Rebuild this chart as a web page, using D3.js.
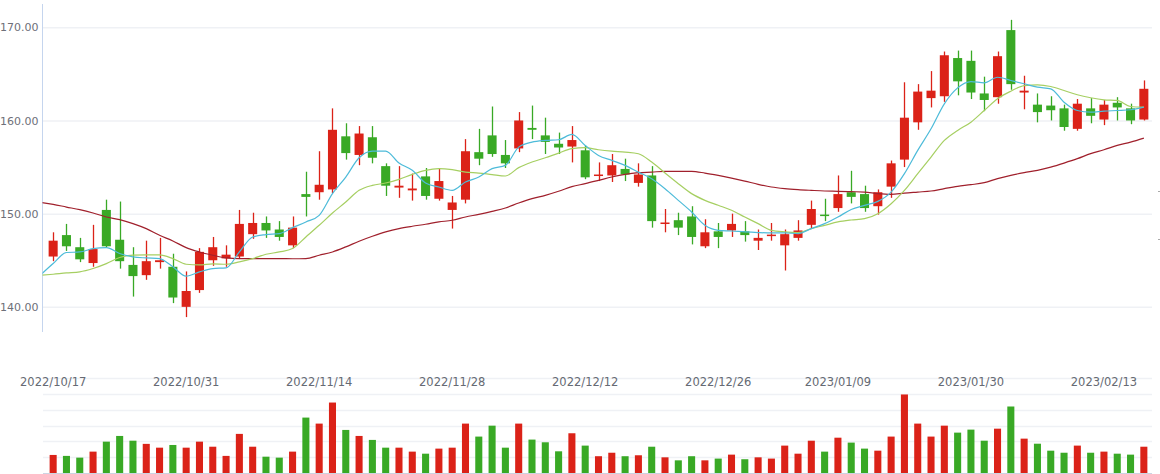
<!DOCTYPE html>
<meta charset="utf-8">
<head>
    <script src="https://d3js.org/d3.v7.min.js"></script>
    <style>
        body { margin: 0; background: #fff; }
        text { font-family: "DejaVu Sans", Verdana, sans-serif; }
    </style>
</head>
<body>
<div id="chart"></div>
<script>
    // trading days shown on the chart
    var dates = [
        "2022/10/17", "2022/10/18", "2022/10/19", "2022/10/20", "2022/10/21",
        "2022/10/24", "2022/10/25", "2022/10/26", "2022/10/27", "2022/10/28",
        "2022/10/31", "2022/11/01", "2022/11/02", "2022/11/03", "2022/11/04",
        "2022/11/07", "2022/11/08", "2022/11/09", "2022/11/10", "2022/11/11",
        "2022/11/14", "2022/11/15", "2022/11/16", "2022/11/17", "2022/11/18",
        "2022/11/21", "2022/11/22", "2022/11/23", "2022/11/24", "2022/11/25",
        "2022/11/28", "2022/11/29", "2022/11/30", "2022/12/01", "2022/12/02",
        "2022/12/05", "2022/12/06", "2022/12/07", "2022/12/08", "2022/12/09",
        "2022/12/12", "2022/12/13", "2022/12/14", "2022/12/15", "2022/12/16",
        "2022/12/19", "2022/12/20", "2022/12/21", "2022/12/22", "2022/12/23",
        "2022/12/26", "2022/12/27", "2022/12/28", "2022/12/29", "2022/12/30",
        "2023/01/03", "2023/01/04", "2023/01/05", "2023/01/06",
        "2023/01/09", "2023/01/10", "2023/01/11", "2023/01/12", "2023/01/13",
        "2023/01/16", "2023/01/17", "2023/01/18", "2023/01/19", "2023/01/20",
        "2023/01/30", "2023/01/31", "2023/02/01", "2023/02/02", "2023/02/03",
        "2023/02/06", "2023/02/07", "2023/02/08", "2023/02/09", "2023/02/10",
        "2023/02/13", "2023/02/14", "2023/02/15", "2023/02/16"
    ];
    var tickDates = ["2022/10/17", "2022/10/31", "2022/11/14", "2022/11/28", "2022/12/12",
        "2022/12/26", "2023/01/09", "2023/01/30", "2023/02/13"];
    var priceTicks = [140, 150, 160, 170];

    var opens = [145.4, 147.7, 146.4, 144.7, 150.4, 147.2, 144.5, 143.4, 144.8, 144.3,
        140.0, 141.8, 145.0, 145.2, 145.4, 147.8, 149.0, 148.3, 146.6, 152.1,
        152.3, 152.6, 158.3, 156.3, 158.2, 155.1, 152.8, 152.5, 154.0, 151.6,
        150.4, 151.5, 156.6, 158.4, 156.3, 157.0, 159.2, 158.4, 157.5, 157.2,
        156.8, 154.1, 154.1, 154.8, 153.3, 154.1, 148.95, 149.3, 149.7, 146.5,
        148.1, 148.2, 148.1, 147.1, 147.7, 146.6, 147.4, 148.8, 149.9, 150.6,
        152.3, 152.1, 150.8, 152.9, 155.8, 159.8, 162.4, 162.6, 166.7, 166.4,
        162.9, 162.5, 169.7, 163.0, 161.7, 161.6, 161.3, 159.1, 161.3, 160.1,
        161.9, 161.3, 160.1];
    var closes = [147.1, 146.5, 145.1, 146.2, 146.5, 144.9, 143.3, 144.9, 145.0, 141.0,
        141.7, 145.9, 146.4, 145.6, 148.9, 149.0, 148.2, 147.5, 148.5, 151.8,
        153.1, 159.0, 156.5, 158.6, 156.0, 153.0, 153.0, 152.7, 151.9, 153.5,
        151.2, 156.7, 155.9, 156.4, 155.4, 160.0, 159.0, 157.7, 157.1, 157.9,
        153.9, 154.2, 155.2, 154.2, 154.2, 149.2, 149.05, 148.5, 147.5, 148.0,
        147.5, 148.9, 147.7, 147.4, 147.75, 147.8, 148.2, 150.5, 149.85, 152.1,
        151.8, 150.6, 152.3, 155.4, 160.3, 163.1, 163.2, 167.0, 164.2, 163.0,
        162.2, 166.9, 163.9, 163.2, 160.9, 161.1, 159.3, 161.8, 160.5, 161.7,
        161.4, 160.0, 163.4];
    var highs = [148.0, 148.9, 147.4, 148.8, 151.5, 151.3, 146.4, 147.1, 147.4, 145.7,
        143.8, 146.3, 147.5, 146.6, 150.4, 150.1, 149.7, 149.2, 149.7, 154.5,
        156.7, 161.3, 159.7, 159.4, 159.4, 155.4, 155.1, 154.3, 154.9, 154.9,
        151.9, 158.0, 159.1, 161.5, 157.9, 160.9, 161.6, 160.3, 158.7, 159.4,
        157.3, 155.5, 156.4, 155.9, 155.4, 155.1, 150.5, 150.1, 150.8, 149.4,
        149.0, 150.0, 149.2, 148.3, 149.0, 148.3, 149.3, 151.4, 151.6, 154.1,
        154.6, 153.0, 152.6, 155.7, 164.1, 163.9, 165.3, 167.4, 167.5, 167.5,
        164.7, 167.4, 170.8, 164.8, 162.9, 162.6, 161.7, 162.3, 162.4, 162.2,
        162.5, 161.8, 164.3];
    var lows = [144.9, 146.0, 144.8, 144.3, 146.4, 144.1, 141.1, 142.9, 144.1, 140.4,
        138.9, 141.5, 144.4, 144.3, 145.2, 147.3, 147.4, 147.1, 146.3, 149.7,
        151.5, 152.2, 155.8, 155.2, 155.4, 151.9, 151.7, 151.4, 151.5, 151.4,
        148.4, 151.1, 155.2, 156.1, 154.9, 156.6, 158.0, 156.4, 156.4, 155.5,
        153.7, 153.5, 153.4, 153.5, 152.9, 148.5, 148.0, 147.7, 146.7, 146.3,
        146.3, 147.5, 147.0, 146.1, 147.1, 143.9, 147.1, 148.4, 149.2, 150.2,
        151.1, 150.2, 149.9, 151.7, 155.0, 159.0, 161.4, 162.0, 162.7, 162.3,
        161.0, 161.8, 163.3, 161.2, 159.8, 160.0, 158.9, 158.9, 159.7, 159.5,
        160.0, 159.6, 160.0];
    var volumes = [11.4, 10.8, 9.7, 13.5, 19.8, 23.4, 20.4, 18.4, 16.0, 17.7,
        16.0, 19.8, 16.6, 10.8, 24.7, 16.6, 10.3, 9.7, 13.5, 35.0,
        31.2, 44.5, 27.2, 23.4, 20.9, 16.0, 16.0, 13.5, 12.2, 15.4,
        16.0, 31.2, 23.0, 29.9, 16.0, 31.2, 21.1, 19.4, 13.7, 25.1,
        17.3, 10.6, 12.8, 10.6, 11.2, 16.6, 9.9, 8.0, 10.6, 8.0,
        9.1, 11.6, 8.7, 9.9, 9.1, 17.3, 12.2, 20.4, 13.5, 22.3,
        19.2, 15.4, 14.1, 23.0, 49.6, 31.2, 23.0, 29.9, 25.5, 27.4,
        20.4, 28.0, 42.0, 21.7, 18.5, 14.1, 12.8, 17.3, 12.8, 13.5,
        12.2, 11.6, 16.6];

    // moving averages, first value belongs to the trading day before 2022/10/17
    var ma5 = [143.35, 144.65, 145.83, 145.89, 146.25, 146.36, 145.72, 145.36, 145.25, 145.18, 144.29,
        143.29, 143.75, 144.11, 144.18, 145.89, 147.5, 147.75, 147.86, 148.5, 149.11,
        149.82, 152.15, 153.93, 156.0, 156.71, 156.71, 155.43, 154.65, 153.29, 152.86,
        152.5, 153.39, 153.93, 154.83, 155.18, 157.14, 157.68, 157.86, 157.93, 158.5,
        157.32, 156.25, 155.72, 155.18, 154.46, 153.75, 152.68, 151.43, 150.18, 148.75,
        148.21, 148.14, 148.04, 147.97, 147.93, 147.93, 147.86, 148.4, 148.93, 149.64,
        150.45, 150.89, 151.32, 152.32, 154.29, 156.79, 159.11, 161.79, 163.5, 164.18,
        164.04, 164.64, 164.29, 163.94, 163.57, 163.4, 161.96, 161.07, 160.89, 161.0,
        161.07, 161.15, 161.43];
    var ma10 = [143.38, 143.5, 143.64, 143.75, 144.11, 144.64, 145.29, 145.54, 145.57, 145.57, 145.18,
        144.57, 144.5, 144.61, 144.57, 144.82, 145.18, 145.64, 145.89, 146.26, 147.5,
        148.75, 150.07, 151.25, 152.5, 153.04, 153.29, 153.68, 154.22, 154.65, 154.83,
        154.72, 154.46, 154.36, 154.19, 154.04, 154.94, 155.54, 156.0, 156.5, 156.97,
        157.08, 156.86, 156.71, 156.61, 156.43, 155.54, 154.36, 153.22, 152.15, 151.43,
        150.9, 150.36, 149.64, 148.93, 148.21, 148.04, 147.97, 148.4, 148.75, 149.11,
        149.32, 149.47, 150.0, 151.07, 152.5, 154.29, 156.07, 157.86, 158.93, 159.82,
        161.07, 162.33, 163.14, 163.75, 163.83, 163.65, 163.22, 162.76, 162.44, 162.22,
        162.15, 161.5, 161.43];
    var maLong = [151.21, 151.0, 150.71, 150.43, 150.07, 149.64, 149.36, 148.93, 148.39, 147.68, 147.07,
        146.36, 145.89, 145.54, 145.25, 145.18, 145.18, 145.18, 145.18, 145.16, 145.18,
        145.54, 145.89, 146.43, 147.04, 147.57, 148.04, 148.4, 148.65, 148.86, 149.11,
        149.29, 149.64, 149.93, 150.25, 150.61, 151.14, 151.61, 151.97, 152.4, 152.9,
        153.22, 153.57, 153.93, 154.22, 154.4, 154.46, 154.54, 154.54, 154.54, 154.36,
        154.11, 153.82, 153.5, 153.15, 152.86, 152.69, 152.58, 152.5, 152.43, 152.4,
        152.36, 152.32, 152.15, 152.07, 152.21, 152.32, 152.43, 152.69, 152.93, 153.11,
        153.33, 153.76, 154.11, 154.4, 154.65, 155.0, 155.43, 155.9, 156.44, 156.86,
        157.32, 157.68, 158.11];

    var upColor = "#db2218",
        downColor = "#39a925";

    var width = 1160,
        height = 474;

    var svg = d3.select("#chart").append("svg")
        .attr("width", width)
        .attr("height", height);

    var plotLeft = 42.5,
        plotRight = 1152;

    // scales
    var x = d3.scaleBand()
        .domain(dates)
        .range([46.5, 1150.5])
        .paddingInner(0.32)
        .paddingOuter(0.16);
    var step = x.step();
    function cx(i) {
        return x.range()[0] + (i + 0.5) * step;
    }

    var y = d3.scaleLinear()
        .domain([137.3, 172.5])
        .range([332, 4]);

    var yVol = d3.scaleLinear()
        .domain([0, 60])
        .range([473, 378]);

    // price gridlines and labels
    svg.append("g")
        .attr("transform", "translate(" + plotLeft + ",0)")
        .call(d3.axisLeft(y).tickValues(priceTicks).tickSize(-(plotRight - plotLeft)).tickFormat(d3.format(".2f")))
        .call(function(g) {
            g.select(".domain").remove();
            g.selectAll(".tick line").attr("stroke", "#eff1f5").attr("stroke-width", 1.5);
            g.selectAll(".tick text").attr("x", -4).attr("fill", "#6e7079").attr("font-size", "11px");
        });

    svg.append("line")
        .attr("x1", plotLeft).attr("x2", plotLeft)
        .attr("y1", 4).attr("y2", 332)
        .attr("stroke", "#c5d5ee");

    // volume gridlines
    svg.append("g")
        .selectAll("line")
        .data(d3.range(10, 61, 10))
        .enter().append("line")
        .attr("x1", 43).attr("x2", plotRight)
        .attr("y1", function(d) { return Math.round(yVol(d)) + 0.5; })
        .attr("y2", function(d) { return Math.round(yVol(d)) + 0.5; })
        .attr("stroke", "#eff1f5")
        .attr("stroke-width", 1.5);

    // date labels
    svg.append("g")
        .attr("transform", "translate(0,378)")
        .call(d3.axisBottom(x).tickValues(tickDates).tickSize(0).tickPadding(0))
        .call(function(g) {
            g.select(".domain").remove();
            g.selectAll(".tick text").attr("dy", "0.71em").attr("y", 0)
                .attr("fill", "#666a73").attr("font-size", "11.5px");
        });

    // volume bars
    var volW = x.bandwidth() * 0.78;
    svg.append("g")
        .selectAll("rect")
        .data(dates)
        .enter().append("rect")
        .attr("x", function(d, i) { return cx(i) - volW / 2; })
        .attr("width", volW)
        .attr("y", function(d, i) { return yVol(volumes[i]); })
        .attr("height", function(d, i) { return yVol(0) - yVol(volumes[i]); })
        .attr("fill", function(d, i) { return closes[i] >= opens[i] ? upColor : downColor; });

    svg.append("line")
        .attr("x1", 43).attr("x2", plotRight)
        .attr("y1", 473.5).attr("y2", 473.5)
        .attr("stroke", "#ccd4e2");

    // candles
    var candle = svg.append("g")
        .selectAll("g")
        .data(dates)
        .enter().append("g");

    candle.append("line")
        .attr("x1", function(d, i) { return Math.round(cx(i)) + 0.5; })
        .attr("x2", function(d, i) { return Math.round(cx(i)) + 0.5; })
        .attr("y1", function(d, i) { return y(highs[i]); })
        .attr("y2", function(d, i) { return y(lows[i]); })
        .attr("stroke", function(d, i) { return closes[i] >= opens[i] ? upColor : downColor; })
        .attr("stroke-width", 1.3);

    candle.append("rect")
        .attr("x", function(d, i) { return cx(i) - x.bandwidth() / 2; })
        .attr("width", x.bandwidth())
        .attr("y", function(d, i) { return y(Math.max(opens[i], closes[i])); })
        .attr("height", function(d, i) { return Math.max(1.5, Math.abs(y(opens[i]) - y(closes[i]))); })
        .attr("fill", function(d, i) { return closes[i] >= opens[i] ? upColor : downColor; });

    // moving average lines
    svg.append("clipPath").attr("id", "plotClip")
        .append("rect")
        .attr("x", plotLeft).attr("y", 0)
        .attr("width", plotRight - plotLeft).attr("height", 340);

    var line = d3.line()
        .x(function(d, i) { return cx(i - 1); })
        .y(function(d) { return y(d); })
        .curve(d3.curveMonotoneX);

    var maSeries = [
        { values: maLong, color: "#a0202c" },
        { values: ma10, color: "#a6cf62" },
        { values: ma5, color: "#4dbbd9" }
    ];
    svg.append("g")
        .attr("clip-path", "url(#plotClip)")
        .selectAll("path")
        .data(maSeries)
        .enter().append("path")
        .attr("d", function(d) { return line(d.values); })
        .attr("fill", "none")
        .attr("stroke", function(d) { return d.color; })
        .attr("stroke-width", 1.2);

    // cut-off marks of an axis at the right edge
    svg.append("g")
        .selectAll("line")
        .data([191.5, 239.5])
        .enter().append("line")
        .attr("x1", 1158).attr("x2", 1160)
        .attr("y1", function(d) { return d; })
        .attr("y2", function(d) { return d; })
        .attr("stroke", "#aaa");
</script>
</body>
